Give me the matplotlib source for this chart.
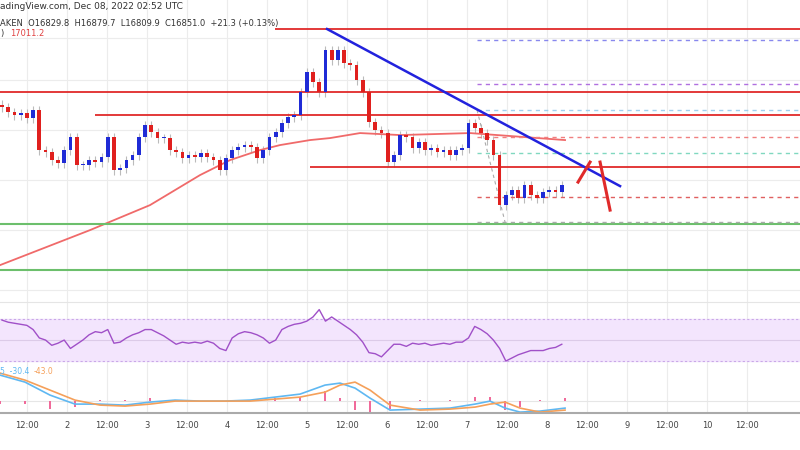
import numpy as np
import matplotlib
matplotlib.use("Agg")
import matplotlib.pyplot as plt

closes = [17072,17052,17040,17048,17028,17060,16900,16892,16860,16848,16900,16952,16840,16840,16860,
          16852,16872,16952,16820,16828,16860,16880,16952,17000,16972,16948,16948,16900,16892,16868,
          16880,16872,16888,16872,16860,16820,16868,16900,16912,16920,16912,16868,16900,16952,16972,
          17008,17032,17040,17132,17212,17172,17132,17300,17260,17300,17248,17240,17180,17132,17012,
          16980,16968,16852,16880,16960,16952,16908,16932,16900,16908,16892,16900,16880,16900,16908,
          17008,16988,16968,16940,16880,16680,16720,16740,16708,16760,16720,16708,16732,16740,16732,16760]
rsi = [69,67,66,65,64,60,52,50,45,47,50,42,46,50,55,58,57,60,47,48,52,55,57,60,60,57,54,50,46,48,
       47,48,47,49,47,42,40,52,56,58,57,55,52,47,50,60,63,65,66,68,72,79,68,72,68,64,60,55,48,38,
       37,34,40,46,46,44,47,46,47,45,46,47,46,48,48,52,63,60,56,50,42,30,33,36,38,40,40,40,42,43,46]
ma_px = [0,45,90,150,200,230,260,280,310,330,360,400,470,565]
ma_val = [16440,16510,16580,16680,16800,16860,16900,16920,16940,16948,16968,16960,16968,16940]
macd_px = [0,25,50,75,100,125,150,175,200,225,250,275,300,325,340,355,370,390,420,450,475,490,505,520,540,565]
macd = [52,38,12,-6,-6,-8,-2,2,0,0,2,8,14,32,36,26,6,-18,-16,-14,-6,0,-14,-22,-20,-14]
signal = [56,42,22,2,-8,-10,-6,0,0,0,0,4,8,18,32,38,22,-8,-18,-16,-12,-6,-2,-14,-22,-18]
tick_labels = ["12:00","2","12:00","3","12:00","4","12:00","5","12:00","6","12:00","7","12:00","8",
               "12:00","9","12:00","10","12:00"]

T0 = 3.9
def h(px): return T0 + px / 3.333
step = 1.866
t = T0 + 0.6 + step * np.arange(len(closes))

fig = plt.figure(figsize=(8, 4.5), dpi=100)
ax = fig.add_axes([0, 0.333, 1, 0.667])
ar = fig.add_axes([0, 0.182, 1, 0.151])
am = fig.add_axes([0, 0.082, 1, 0.1])
XL = (T0, T0 + 240)
vgrid = [h(27 + 40 * k) for k in range(19)]
for a in (ax, ar, am):
    a.set_xlim(*XL)
    for s in a.spines.values():
        s.set_visible(False)
    a.set_yticks([])
    for g in vgrid:
        a.axvline(g, color="#ececec", lw=0.8, zorder=0)

ax.set_ylim(16300, 17500)
ax.set_xticks([])
for y in [17350, 17180, 16980, 16780, 16580, 16340]:
    ax.axhline(y, color="#ececec", lw=0.8, zorder=0)
opens = [closes[0] + 10] + closes[:-1]
for ti, o, c in zip(t, opens, closes):
    col = "#1f2bd6" if c >= o else "#e0201e"
    ax.vlines(ti, min(o, c) - 18, max(o, c) + 18, color="#bbbbbb", lw=0.8, zorder=2)
    ax.bar(ti, max(abs(c - o), 3), bottom=min(o, c), width=step * 0.6, color=col, zorder=3)
ax.plot([h(p) for p in ma_px], ma_val, color="#f06a6a", lw=1.3, zorder=2)
R = "#e02a2a"
ax.hlines(17384, h(275), XL[1], color=R, lw=1.3)
ax.hlines(17132, XL[0], XL[1], color=R, lw=1.3)
ax.hlines(17040, h(95), XL[1], color=R, lw=1.3)
ax.hlines(16832, h(310), XL[1], color=R, lw=1.3)
ax.axhline(16604, color="#6cbf6c", lw=1.5)
ax.axhline(16420, color="#6cbf6c", lw=1.5)
for y, c in [(17340, "#8888ee"), (17164, "#b070e0"), (17060, "#9fd0f0"),
             (16952, "#f08080"), (16888, "#80d8c0"), (16712, "#e06060"), (16612, "#aaaaaa")]:
    ax.hlines(y, h(477), XL[1], color=c, lw=1, linestyles=(0, (3, 3)))
ax.plot([h(477), h(505)], [17060, 16612], color="#aaaaaa", lw=0.8, ls=(0, (3, 3)))
ax.plot([h(327), h(620)], [17384, 16756], color="#2222dd", lw=1.8)
ax.plot([h(578), h(590)], [16772, 16852], color=R, lw=2.2)
ax.plot([h(600), h(610)], [16852, 16660], color=R, lw=2.2)
fig.text(0.0, 0.995, "adingView.com, Dec 08, 2022 02:52 UTC", fontsize=6.5, color="#333", va="top")
fig.text(0.0, 0.958, "AKEN  O16829.8  H16879.7  L16809.9  C16851.0  +21.3 (+0.13%)", fontsize=6, color="#333", va="top")
fig.text(0.0, 0.936, ")", fontsize=6, color="#333", va="top")
fig.text(0.012, 0.936, "17011.2", fontsize=6, color="#e04040", va="top")

ar.set_ylim(23.3, 88)
ar.set_xticks([])
ar.axhspan(30, 70, color="#f3e5fd", zorder=0)
for y in (30, 70):
    ar.axhline(y, color="#c9a8e8", lw=0.8, ls=(0, (2, 2)))
ar.axhline(50, color="#dccbe8", lw=0.8)
ar.axhline(86, color="#e5e5e5", lw=0.8)
ar.plot(t, rsi, color="#a050c8", lw=1)

am.set_ylim(-24, 66)
mt = [h(p) for p in macd_px]
hist = np.array(macd) - np.array(signal)
am.bar(mt, hist * 1.5, width=0.6, color="#f06a9a", zorder=1)
am.axhline(0, color="#e6e6e6", lw=0.8, zorder=0)
am.plot(mt, macd, color="#5fb8f2", lw=1.2)
am.plot(mt, signal, color="#f5a05a", lw=1.2)
am.text(T0, 60, "5  -30.4", color="#5fb8f2", fontsize=5.5, va="center")
am.text(T0 + 10, 60, "-43.0", color="#f5a05a", fontsize=5.5, va="center")
am.spines["bottom"].set_visible(True)
am.spines["bottom"].set_color("#aaaaaa")
am.spines["bottom"].set_linewidth(1.5)
am.set_xticks(vgrid)
am.set_xticklabels(tick_labels, fontsize=6, color="#444")
am.tick_params(axis="x", length=0, pad=6)
fig.savefig("out.png", dpi=100, facecolor="white")
